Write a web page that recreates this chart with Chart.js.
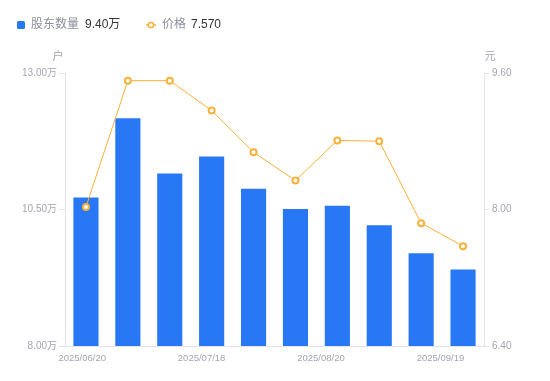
<!DOCTYPE html>
<html>
<head>
<meta charset="utf-8">
<script src="https://cdn.jsdelivr.net/npm/chart.js@4/dist/chart.umd.min.js"></script>
<style>
  html, body { margin: 0; padding: 0; background: #fff; }
  #wrap { width: 550px; height: 381px; position: relative; }
</style>
</head>
<body>
<div id="wrap"><canvas id="c" width="550" height="381"></canvas></div>
<script>
// ---- data ----
const categories = ['2025/06/20','2025/06/30','2025/07/10','2025/07/18','2025/07/31','2025/08/08','2025/08/20','2025/08/29','2025/09/10','2025/09/19'];
const holders = [10.72, 12.17, 11.16, 11.47, 10.88, 10.51, 10.57, 10.21, 9.70, 9.40]; // 万户
const prices = [8.03, 9.51, 9.51, 9.16, 8.67, 8.34, 8.81, 8.80, 7.84, 7.57];        // 元
const shownLabelIdx = [0, 3, 6, 9];
const leftTicks = [8.00, 10.50, 13.00];
const rightTicks = [6.40, 8.00, 9.60];

const FONT = '"Liberation Sans", "Noto Sans CJK SC", sans-serif';
const BLUE = '#2878F5';
const ORANGE = '#F9B13A';
const AXIS_TXT = '#A3A6B1';
const AXIS_LINE = '#E3E4E8';

const overlay = {
  id: 'overlay',
  afterDraw(chart) {
    const ctx = chart.ctx;
    ctx.save();
    ctx.textBaseline = 'middle';
    // legend
    const ly = 25;
    ctx.fillStyle = BLUE;
    ctx.beginPath();
    ctx.roundRect(17, ly - 4, 8, 8, 1.5);
    ctx.fill();
    ctx.font = '12px ' + FONT;
    ctx.textAlign = 'left';
    ctx.fillStyle = '#8C8F9A';
    ctx.fillText('股东数量', 31, ly);
    ctx.fillStyle = '#333333';
    ctx.fillText(holders[holders.length - 1].toFixed(2) + '万', 85, ly);

    ctx.strokeStyle = ORANGE;
    ctx.lineWidth = 1.5;
    ctx.beginPath(); ctx.moveTo(146, ly); ctx.lineTo(156, ly); ctx.stroke();
    ctx.fillStyle = '#fff';
    ctx.beginPath(); ctx.arc(151, ly, 2.6, 0, Math.PI * 2); ctx.fill(); ctx.stroke();
    ctx.fillStyle = '#8C8F9A';
    ctx.fillText('价格', 162, ly);
    ctx.fillStyle = '#333333';
    ctx.fillText(prices[prices.length - 1].toFixed(3), 191, ly);

    // unit titles
    ctx.font = '11px ' + FONT;
    ctx.fillStyle = AXIS_TXT;
    ctx.textAlign = 'center';
    ctx.fillText('户', 58, 57);
    ctx.fillText('元', 490, 57);
    ctx.restore();
  }
};

new Chart(document.getElementById('c'), {
  data: {
    labels: categories,
    datasets: [
      {
        type: 'line',
        label: '价格',
        data: prices,
        yAxisID: 'y1',
        xAxisID: 'x',
        borderColor: ORANGE,
        borderWidth: 1,
        tension: 0,
        pointRadius: 3,
        pointHoverRadius: 3,
        pointBorderWidth: 2,
        pointBorderColor: ORANGE,
        pointBackgroundColor: '#fff',
        order: 0
      },
      {
        type: 'bar',
        label: '股东数量',
        data: holders,
        yAxisID: 'y',
        xAxisID: 'x',
        backgroundColor: BLUE,
        borderWidth: 0,
        categoryPercentage: 1,
        barPercentage: 0.6,
        order: 1
      }
    ]
  },
  options: {
    responsive: false,
    animation: false,
    devicePixelRatio: 1,
    layout: { padding: { top: 73, left: 0, right: 0, bottom: 0 } },
    plugins: { legend: { display: false }, tooltip: { enabled: false } },
    scales: {
      x: {
        type: 'category',
        display: false,
        offset: true
      },
      xl: {
        type: 'linear',
        position: 'bottom',
        min: -0.5,
        max: 9.5,
        afterBuildTicks(scale) {
          scale.ticks = shownLabelIdx.map(i => ({ value: i * 0.95 - 0.09 }));
        },
        afterFit(scale) { scale.height = 35; },
        grid: { display: false, drawTicks: false },
        border: { display: true, color: AXIS_LINE, width: 1 },
        ticks: {
          autoSkip: false,
          maxRotation: 0,
          padding: 7,
          color: AXIS_TXT,
          font: { size: 9.5, family: FONT },
          callback: (v, i) => categories[shownLabelIdx[i]]
        }
      },
      y: {
        type: 'linear',
        position: 'left',
        min: 8,
        max: 13,
        afterBuildTicks(scale) { scale.ticks = leftTicks.map(v => ({ value: v })); },
        afterFit(scale) { scale.width = 65; },
        grid: { drawOnChartArea: false, drawTicks: true, tickLength: 6, color: AXIS_LINE },
        border: { display: true, color: AXIS_LINE, width: 1 },
        ticks: {
          padding: 2,
          color: AXIS_TXT,
          font: { size: 10, family: FONT },
          callback: v => Number(v).toFixed(2) + '万'
        }
      },
      y1: {
        type: 'linear',
        position: 'right',
        min: 6.4,
        max: 9.6,
        afterBuildTicks(scale) { scale.ticks = rightTicks.map(v => ({ value: v })); },
        afterFit(scale) { scale.width = 66; },
        grid: { drawOnChartArea: false, drawTicks: true, tickLength: 5, color: AXIS_LINE },
        border: { display: true, color: AXIS_LINE, width: 1 },
        ticks: {
          padding: 3,
          color: AXIS_TXT,
          font: { size: 10, family: FONT },
          callback: v => Number(v).toFixed(2)
        }
      }
    }
  },
  plugins: [overlay]
});
</script>
</body>
</html>
